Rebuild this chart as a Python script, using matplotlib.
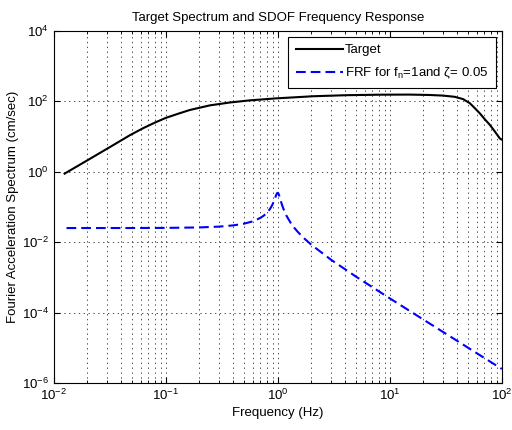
import matplotlib
matplotlib.use("Agg")
import matplotlib.pyplot as plt
from matplotlib.ticker import LogLocator, NullFormatter, NullLocator

# target spectrum
target_f = [0.0125, 0.0202, 0.0363, 0.0477, 0.0627, 0.08, 0.1, 0.13, 0.164, 0.247,
            0.373, 0.562, 0.973, 2.07, 4.1, 8.14, 15.0, 22.8, 30.0, 38.0, 45.2,
            51.8, 57.0, 63.6, 70.0, 78.2, 87.0, 96.0, 99.5]
target_a = [0.89, 2.17, 6.5, 10.9, 17.3, 25, 34, 45, 57, 77,
            93, 107, 122, 140, 150, 155, 156, 152, 146, 135, 116,
            89, 66, 46, 32, 21.6, 13.8, 8.9, 8.3]

# SDOF frequency response (fn = 1, zeta = 0.05)
frf_f = [0.013, 0.05, 0.1, 0.2, 0.3, 0.4, 0.5, 0.6, 0.7, 0.75, 0.8, 0.85, 0.88,
         0.9, 0.93, 0.95, 0.97, 0.98, 0.99, 1.0, 1.01, 1.02, 1.03, 1.05, 1.07,
         1.1, 1.15, 1.2, 1.3, 1.4, 1.5, 1.7, 2, 3, 5, 10, 20, 50, 100]
frf_a = [0.02533, 0.02539, 0.02558, 0.02638, 0.02782, 0.03012, 0.0337, 0.03941,
         0.04921, 0.05707, 0.06869, 0.08728, 0.1046, 0.1205, 0.1544, 0.1861,
         0.223, 0.2397, 0.2508, 0.2533, 0.246, 0.2309, 0.2117, 0.1726, 0.1406,
         0.1068, 0.07398, 0.05554, 0.03608, 0.02611, 0.02012, 0.01335, 0.008425,
         0.003164, 0.001055, 0.0002558, 6.348e-5, 1.0136e-5, 2.533e-6]

plt.rcParams['font.family'] = ['Liberation Sans', 'DejaVu Sans']
plt.rcParams['mathtext.fontset'] = 'custom'
plt.rcParams['mathtext.rm'] = 'Liberation Sans'
plt.rcParams['mathtext.it'] = 'Liberation Sans:italic'
plt.rcParams['lines.scale_dashes'] = False

fig = plt.figure(figsize=(5.12, 4.3), dpi=100)
ax = fig.add_axes([0.105, 0.109, 0.875, 0.819])

ax.loglog(target_f, target_a, color='k', lw=1.5, label='Target')
ax.loglog(frf_f, frf_a, color='#0000ff', lw=1.5, dashes=(7, 3.6),
          label='FRF for f$_\\mathrm{n}$=1and ζ= 0.05')

ax.set_xlim(1e-2, 1e2)
ax.set_ylim(1e-6, 1e4)
ax.yaxis.set_major_locator(LogLocator(base=100.0, numticks=20))
ax.yaxis.set_minor_locator(NullLocator())
ax.xaxis.set_minor_locator(LogLocator(base=10.0, subs=range(2, 10), numticks=20))
ax.xaxis.set_minor_formatter(NullFormatter())

ax.grid(True, which='major', ls=(0, (1, 2.5)), color='#333333', lw=0.6)
ax.grid(True, which='minor', axis='x', ls=(0, (1, 2.5)), color='#333333', lw=0.6)
ax.tick_params(which='both', direction='in', top=True, right=True, labelsize=9.5)
ax.tick_params(which='major', length=4)
ax.tick_params(which='minor', length=2)
for s in ax.spines.values():
    s.set_linewidth(0.8)

ax.set_title('Target Spectrum and SDOF Frequency Response', fontsize=9.5, pad=7)
ax.set_xlabel('Frequency (Hz)', fontsize=9.5, labelpad=3)
ax.set_ylabel('Fourier Acceleration Spectrum (cm/sec)', fontsize=9.5, labelpad=2)

leg = ax.legend(loc='upper right', fontsize=9.5, handlelength=3.6, handletextpad=0.15,
                labelspacing=0.7, fancybox=False, framealpha=1, edgecolor='k',
                borderaxespad=0.45, borderpad=0.55)
leg.get_frame().set_linewidth(0.8)

fig.savefig('out.png', dpi=100)
